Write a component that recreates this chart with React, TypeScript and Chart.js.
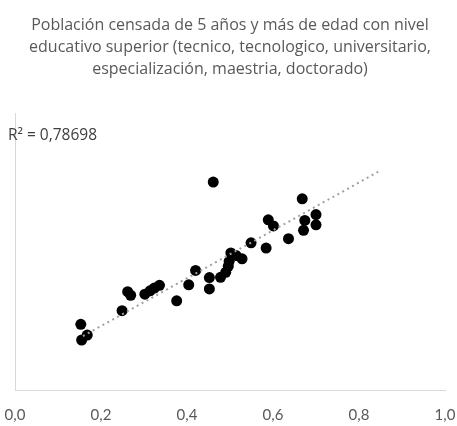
import React, { useEffect, useRef } from "react";
import { Chart, registerables } from "chart.js";

Chart.register(...registerables);

const titleLines = [
  "Población censada de 5 años y más de edad con nivel",
  "educativo superior (tecnico, tecnologico, universitario,",
  "especialización, maestria, doctorado)",
];

const xValues = [
  0.153, 0.168, 0.155, 0.249, 0.262, 0.269, 0.302, 0.314, 0.324, 0.336, 0.376,
  0.404, 0.42, 0.452, 0.452, 0.478, 0.49, 0.496, 0.498, 0.502, 0.514, 0.528,
  0.549, 0.584, 0.589, 0.601, 0.636, 0.461, 0.668, 0.674, 0.671, 0.7, 0.7,
];
const yValues = [
  0.238, 0.199, 0.181, 0.287, 0.356, 0.343, 0.347, 0.359, 0.369, 0.379, 0.323,
  0.381, 0.433, 0.407, 0.366, 0.408, 0.426, 0.448, 0.466, 0.496, 0.487, 0.475,
  0.533, 0.514, 0.616, 0.594, 0.548, 0.753, 0.692, 0.614, 0.578, 0.635, 0.598,
];

const trendX = [0.158, 0.847];
const trendY = [0.195, 0.792];
const rSquaredLabel = "R² = 0,78698";

const xTicks = [0, 0.2, 0.4, 0.6, 0.8, 1.0];

export default function App() {
  const ref = useRef<HTMLCanvasElement | null>(null);

  useEffect(() => {
    document.body.style.margin = "0";
    const canvas = ref.current;
    if (!canvas) return;

    const rLabelPlugin = {
      id: "rLabel",
      afterDatasetsDraw(chart: any) {
        const { ctx, chartArea } = chart;
        ctx.save();
        ctx.font = "15.5px 'Open Sans'";
        ctx.fillStyle = "#404040";
        ctx.textAlign = "left";
        ctx.textBaseline = "middle";
        ctx.fillText(rSquaredLabel, chartArea.left - 7, chartArea.top + 22);
        ctx.restore();
      },
    };

    const chart = new Chart(canvas, {
      type: "scatter",
      data: {
        datasets: [
          {
            label: "Tendencia",
            data: trendX.map((x, i) => ({ x, y: trendY[i] })),
            showLine: true,
            borderColor: "#a0a0a0",
            borderWidth: 2,
            borderDash: [2, 3.6],
            pointRadius: 0,
            fill: false,
          },
          {
            label: "Datos",
            data: xValues.map((x, i) => ({ x, y: yValues[i] })),
            backgroundColor: "#000000",
            borderColor: "#000000",
            borderWidth: 0,
            pointRadius: 5.5,
            pointHoverRadius: 5.5,
          },
        ],
      },
      options: {
        animation: false,
        responsive: false,
        maintainAspectRatio: false,
        layout: { padding: { left: 15, right: 12, top: 0, bottom: 0 } },
        plugins: {
          legend: { display: false },
          tooltip: { enabled: false },
          title: {
            display: true,
            text: titleLines,
            color: "#595959",
            font: { family: "'Open Sans'", size: 16, weight: "normal", lineHeight: 1.35 },
            padding: { top: 15, bottom: 34 },
          },
        },
        scales: {
          x: {
            type: "linear",
            min: 0,
            max: 1,
            afterFit: (s: any) => {
              s.height = 36;
              s.paddingLeft = 0;
              s.paddingRight = 0;
            },
            afterBuildTicks: (s: any) => {
              s.ticks = xTicks.map((v) => ({ value: v }));
            },
            grid: { display: false, drawTicks: false },
            border: { display: true, color: "#d9d9d9", width: 1 },
            ticks: {
              color: "#595959",
              padding: 16,
              font: { family: "Lato", size: 15 },
              callback: (v: any) => Number(v).toFixed(1).replace(".", ","),
            },
          },
          y: {
            type: "linear",
            min: 0,
            max: 1,
            afterFit: (s: any) => {
              s.width = 0;
              s.paddingTop = 0;
              s.paddingBottom = 0;
            },
            grid: { display: false, drawTicks: false },
            border: { display: true, color: "#d9d9d9", width: 1 },
            ticks: { display: false },
          },
        },
      },
      plugins: [rLabelPlugin],
    });

    return () => chart.destroy();
  }, []);

  return <canvas ref={ref} width={457} height={426} style={{ display: "block" }} />;
}
